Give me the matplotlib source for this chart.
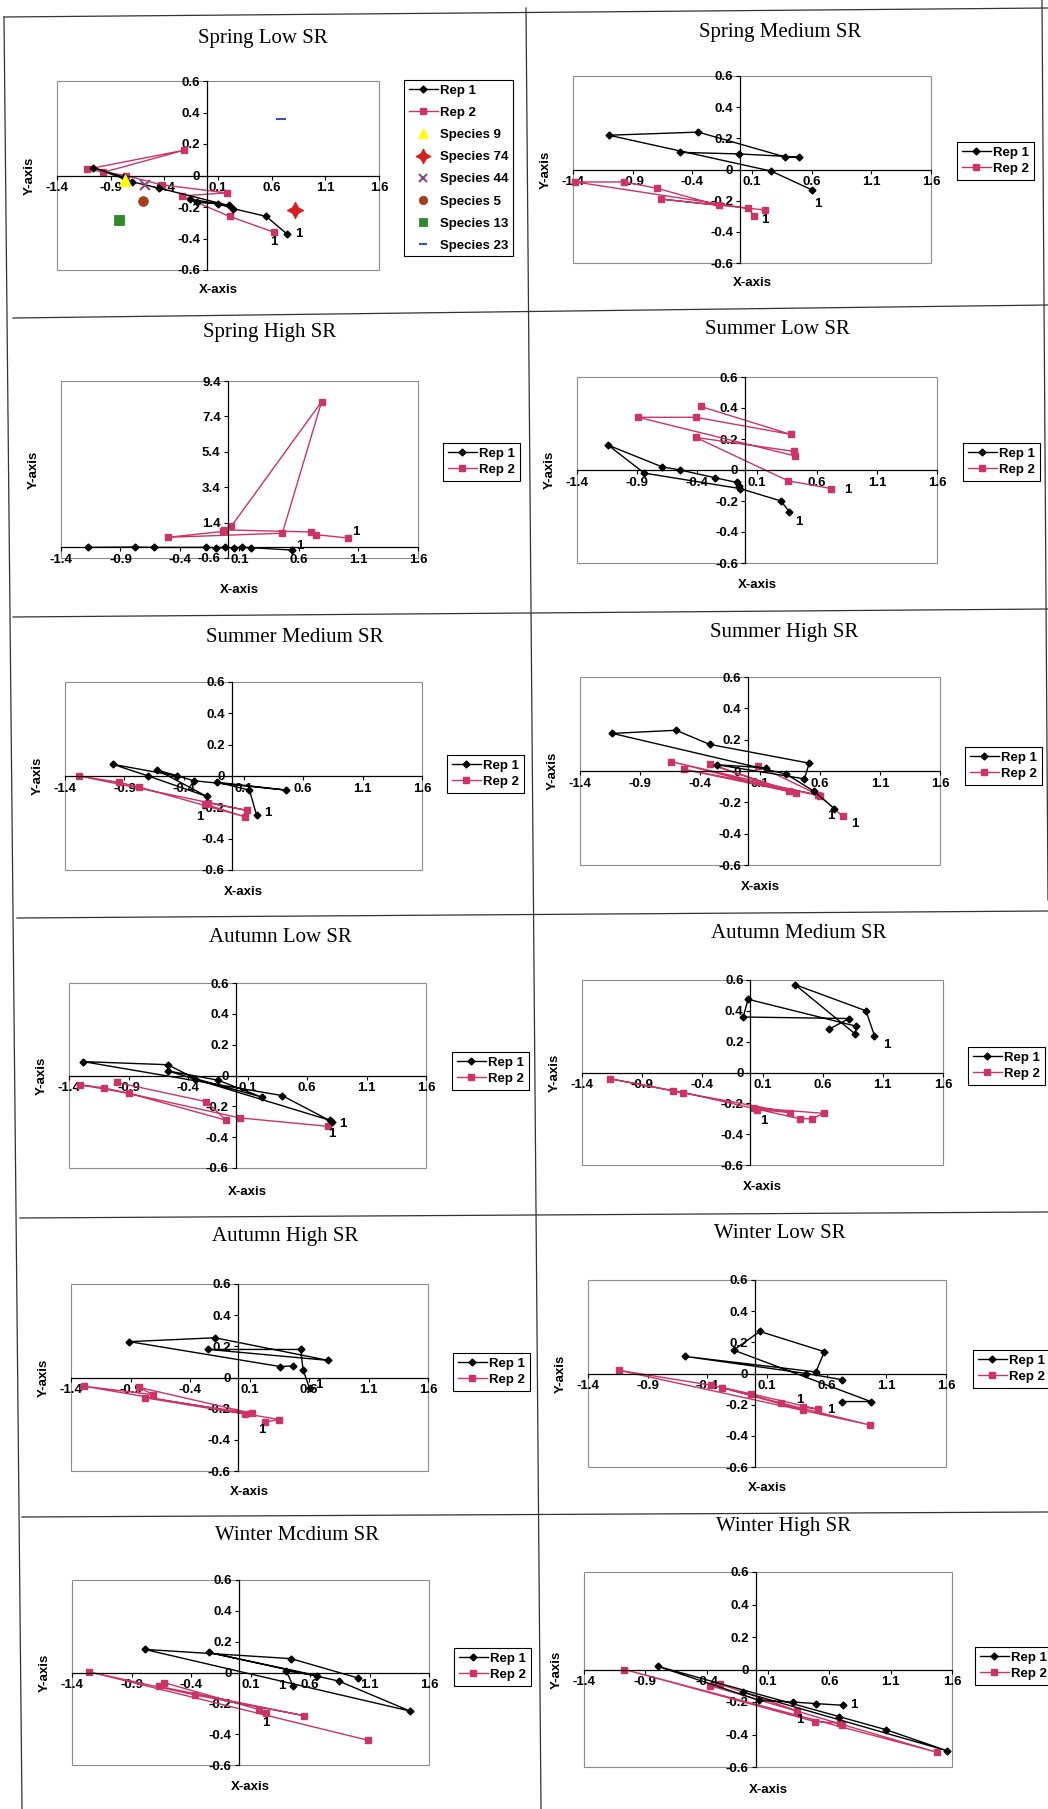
import matplotlib.pyplot as plt
from matplotlib.lines import Line2D
from matplotlib.patches import Rectangle
import matplotlib.ticker as ticker

plt.rcParams['font.family'] = ['Liberation Sans', 'DejaVu Sans']

W, H = 1048, 1809

# ---------------- DATA ----------------
panel_titles = ['Spring Low SR', 'Spring Medium SR', 'Spring High SR', 'Summer Low SR',
                'Summer Medium SR', 'Summer High SR', 'Autumn Low SR', 'Autumn Medium SR',
                'Autumn High SR', 'Winter Low SR', 'Winter Mcdium SR', 'Winter High SR']

x_ticks = [-1.4, -0.9, -0.4, 0.1, 0.6, 1.1, 1.6]
y_ticks = [-0.6, -0.4, -0.2, 0, 0.2, 0.4, 0.6]
y_ticks_spring_high = [-0.6, 1.4, 3.4, 5.4, 7.4, 9.4]

# Spring Low
spring_low_rep1_x = [0.74, 0.55, 0.24, 0.10, -0.10, -0.16, 0.20, -0.45, -0.70, -1.06, -0.78]
spring_low_rep1_y = [-0.37, -0.26, -0.21, -0.18, -0.17, -0.15, -0.19, -0.08, -0.04, 0.05, -0.01]
spring_low_rep2_x = [0.62, 0.21, -0.24, 0.18, -0.42, -0.76, -1.12, -0.22, -0.97]
spring_low_rep2_y = [-0.36, -0.26, -0.13, -0.11, -0.06, 0.00, 0.04, 0.16, 0.02]

species_names = ['Species 9', 'Species 74', 'Species 44', 'Species 5', 'Species 13', 'Species 23']
species_x = [-0.77, 0.82, -0.58, -0.60, -0.82, 0.69]
species_y = [-0.03, -0.22, -0.06, -0.16, -0.28, 0.36]

# Spring Medium
spring_med_rep1_x = [0.60, 0.26, -1.10, -0.35, 0.38, 0.49, -0.01, -0.50]
spring_med_rep1_y = [-0.13, -0.01, 0.22, 0.24, 0.08, 0.08, 0.10, 0.11]
spring_med_rep2_x = [0.12, 0.07, -1.38, -0.97, -0.70, -0.18, -0.66, 0.21]
spring_med_rep2_y = [-0.30, -0.25, -0.08, -0.08, -0.12, -0.23, -0.19, -0.26]

# Spring High
spring_high_rep1_x = [0.54, 0.20, 0.12, 0.05, -0.02, -0.10, -0.18, -0.62, -0.78, -1.17]
spring_high_rep1_y = [-0.15, -0.02, 0.01, -0.03, 0.0, -0.02, 0.0, 0.0, 0.02, 0.0]
spring_high_rep2_x = [1.01, 0.74, 0.70, -0.03, 0.03, 0.79, 0.46, -0.50, -0.04]
spring_high_rep2_y = [0.53, 0.72, 0.87, 0.99, 1.18, 8.23, 0.80, 0.57, 0.90]

# Summer Low
summer_low_rep1_x = [0.37, 0.30, -0.04, -0.84, -1.14, -0.69, -0.54, -0.25, -0.07, -0.05]
summer_low_rep1_y = [-0.27, -0.20, -0.12, -0.02, 0.16, 0.02, 0.00, -0.05, -0.08, -0.10]
summer_low_rep2_x = [0.72, 0.36, -0.41, 0.41, 0.42, -0.89, -0.41, 0.38, -0.37]
summer_low_rep2_y = [-0.12, -0.07, 0.21, 0.12, 0.09, 0.34, 0.34, 0.23, 0.41]

# Summer Medium
summer_med_rep1_x = [0.21, 0.15, -0.12, 0.46, -0.32, -0.63, -0.21, -0.70, -1.00, -0.46]
summer_med_rep1_y = [-0.25, -0.09, -0.04, -0.09, -0.03, 0.04, -0.13, 0.00, 0.075, 0.00]
summer_med_rep2_x = [-0.20, 0.13, -1.28, -0.95, -0.78, 0.11, -0.22]
summer_med_rep2_y = [-0.17, -0.22, 0.00, -0.04, -0.07, -0.26, -0.18]

# Summer High
summer_high_rep1_x = [0.72, 0.55, 0.32, -1.13, -0.60, -0.32, 0.51, 0.47, -0.26, 0.15]
summer_high_rep1_y = [-0.24, -0.13, -0.02, 0.24, 0.26, 0.17, 0.05, -0.05, 0.04, 0.02]
summer_high_rep2_x = [0.79, 0.60, -0.64, 0.34, -0.32, 0.40, -0.53, 0.58, 0.08]
summer_high_rep2_y = [-0.29, -0.16, 0.06, -0.13, 0.045, -0.14, 0.01, -0.15, 0.035]

# Autumn Low
autumn_low_rep1_x = [0.81, 0.39, -1.28, -0.57, -0.34, 0.22, -0.15, -0.57, 0.79]
autumn_low_rep1_y = [-0.30, -0.13, 0.09, 0.07, -0.02, -0.14, -0.03, 0.03, -0.29]
autumn_low_rep2_x = [0.78, 0.035, -1.11, -1.31, -0.90, -0.08, -0.245, -1.00]
autumn_low_rep2_y = [-0.33, -0.275, -0.08, -0.06, -0.115, -0.29, -0.17, -0.045]

# Autumn Medium
autumn_med_rep1_x = [1.03, 0.96, 0.37, 0.87, 0.88, -0.02, -0.06, 0.82, 0.65]
autumn_med_rep1_y = [0.24, 0.40, 0.57, 0.25, 0.30, 0.475, 0.36, 0.35, 0.28]
autumn_med_rep2_x = [0.055, 0.33, -0.64, -1.17, -0.56, 0.41, 0.51, 0.61, 0.03]
autumn_med_rep2_y = [-0.24, -0.26, -0.12, -0.04, -0.13, -0.30, -0.30, -0.265, -0.23]

# Autumn High
autumn_high_rep1_x = [0.605, 0.55, 0.53, -0.245, 0.76, -0.19, -0.91, 0.36, 0.465]
autumn_high_rep1_y = [-0.07, 0.05, 0.18, 0.18, 0.11, 0.255, 0.23, 0.07, 0.075]
autumn_high_rep2_x = [0.23, 0.35, -1.29, -0.71, -0.825, 0.12, -0.78, 0.06]
autumn_high_rep2_y = [-0.285, -0.27, -0.056, -0.11, -0.064, -0.23, -0.13, -0.235]

# Winter Low
winter_low_rep1_x = [0.73, 0.97, -0.18, 0.04, 0.58, 0.51, -0.59, 0.43, 0.73]
winter_low_rep1_y = [-0.18, -0.18, 0.15, 0.27, 0.14, 0.01, 0.11, 0.0, -0.04]
winter_low_rep2_x = [0.40, 0.53, -0.035, -0.37, -1.14, 0.96, 0.22, -0.28, 0.405]
winter_low_rep2_y = [-0.215, -0.23, -0.13, -0.075, 0.02, -0.33, -0.19, -0.09, -0.235]

# Winter Medium
winter_med_rep1_x = [0.46, 0.40, 0.66, -0.25, 0.84, 1.44, -0.79, 0.44, 1.00]
winter_med_rep1_y = [-0.09, 0.01, -0.02, 0.13, -0.055, -0.25, 0.15, 0.09, -0.035]
winter_med_rep2_x = [0.23, 0.17, -0.63, -0.67, 0.55, -0.37, -1.26, 1.09]
winter_med_rep2_y = [-0.26, -0.24, -0.065, -0.09, -0.28, -0.145, 0.005, -0.44]

# Winter High
winter_high_rep1_x = [0.71, 0.49, 0.30, 0.03, -0.80, 0.68, 1.06, 1.56, -0.10]
winter_high_rep1_y = [-0.22, -0.21, -0.20, -0.19, 0.02, -0.29, -0.37, -0.50, -0.14]
winter_high_rep2_x = [0.34, -0.29, -0.37, 1.48, -1.07, 0.48, 0.69, 0.70]
winter_high_rep2_y = [-0.255, -0.09, -0.10, -0.51, 0.0, -0.32, -0.33, -0.34]

rep1_x = [spring_low_rep1_x, spring_med_rep1_x, spring_high_rep1_x, summer_low_rep1_x,
          summer_med_rep1_x, summer_high_rep1_x, autumn_low_rep1_x, autumn_med_rep1_x,
          autumn_high_rep1_x, winter_low_rep1_x, winter_med_rep1_x, winter_high_rep1_x]
rep1_y = [spring_low_rep1_y, spring_med_rep1_y, spring_high_rep1_y, summer_low_rep1_y,
          summer_med_rep1_y, summer_high_rep1_y, autumn_low_rep1_y, autumn_med_rep1_y,
          autumn_high_rep1_y, winter_low_rep1_y, winter_med_rep1_y, winter_high_rep1_y]
rep2_x = [spring_low_rep2_x, spring_med_rep2_x, spring_high_rep2_x, summer_low_rep2_x,
          summer_med_rep2_x, summer_high_rep2_x, autumn_low_rep2_x, autumn_med_rep2_x,
          autumn_high_rep2_x, winter_low_rep2_x, winter_med_rep2_x, winter_high_rep2_x]
rep2_y = [spring_low_rep2_y, spring_med_rep2_y, spring_high_rep2_y, summer_low_rep2_y,
          summer_med_rep2_y, summer_high_rep2_y, autumn_low_rep2_y, autumn_med_rep2_y,
          autumn_high_rep2_y, winter_low_rep2_y, winter_med_rep2_y, winter_high_rep2_y]

# ---------------- LAYOUT (pixels) ----------------
# plot area: left, top, right, bottom
plot_boxes = [(57, 81, 379, 270), (573, 76, 931, 263), (61, 381, 418, 558), (577, 377, 937, 563),
              (65, 682, 422, 870), (580, 677, 940, 865), (69, 983, 426, 1168), (582, 980, 943, 1165),
              (71, 1284, 428, 1471), (588, 1280, 946, 1467), (72, 1580, 429, 1765), (584, 1572, 952, 1767)]
legend_pos = [(404, 80), (957, 142), (443, 443), (963, 443), (447, 755), (965, 747),
              (452, 1052), (968, 1047), (453, 1353), (973, 1350), (454, 1648), (975, 1647)]
title_pos = [(263, 38), (780, 32), (270, 333), (777, 330), (295, 637), (784, 632),
             (280, 937), (799, 933), (285, 1237), (780, 1233), (297, 1535), (784, 1527)]
xlabel_gap = [20, 20, 32, 22, 22, 22, 24, 22, 21, 21, 22, 23]
# offsets (px, down positive) of the "1" start labels
rep1_lab = [(12, 0), (6, 14), (8, -4), (9, 10), (11, -2), (-4, 7), (11, 2), (12, 9), (9, -3), (-11, 8), (-12, 0), (11, 0)]
rep2_lab = [(0, 10), (10, 4), (8, -6), (16, 1), (-8, 14), (12, 8), (3, 8), (7, 12), (-3, 8), (-3, -7), (0, 10), (2, 9)]

# table lines: (x0, y0, x1, y1)
table_lines = [(4, 17, 22, 1809), (526, 8, 541, 1809), (1042, 0, 1048, 900),
               (4, 17, 1048, 8), (13, 318, 1048, 305), (13, 617, 1048, 609), (17, 918, 1048, 911),
               (20, 1218, 1048, 1212), (22, 1517, 1048, 1512)]

REP1_C = '#000000'
REP2_C = '#cc3366'
species_style = [dict(marker='^', color='#ffff00', ms=8),
                 dict(marker=(4, 1, 0), color='#d42020', ms=12),
                 dict(marker='x', color='#8a4a7a', ms=7),
                 dict(marker='o', color='#a0401c', ms=7),
                 dict(marker='s', color='#2f8a2a', ms=7),
                 dict(marker='_', color='#3355aa', ms=7)]

fig = plt.figure(figsize=(W / 100, H / 100), dpi=100)
fig.patch.set_facecolor('white')

px = 0.72  # pixel -> points


def fmt(v, pos):
    if abs(v) < 1e-9:
        return '0'
    return '%.1f' % v


for i in range(12):
    l, t, r, b = plot_boxes[i]
    ax = fig.add_axes([l / W, 1 - b / H, (r - l) / W, (b - t) / H])
    ax.set_xlim(-1.4, 1.6)
    if i == 2:
        ax.set_ylim(-0.6, 9.4)
        ax.set_yticks(y_ticks_spring_high)
    else:
        ax.set_ylim(-0.6, 0.6)
        ax.set_yticks(y_ticks)
    ax.set_xticks(x_ticks)
    ax.xaxis.set_major_formatter(ticker.FuncFormatter(fmt))
    ax.yaxis.set_major_formatter(ticker.FuncFormatter(fmt))
    ax.spines['left'].set_position(('data', 0))
    ax.spines['bottom'].set_position(('data', 0))
    ax.spines['top'].set_visible(False)
    ax.spines['right'].set_visible(False)
    ax.spines['left'].set_linewidth(0.9)
    ax.spines['bottom'].set_linewidth(0.9)
    ax.tick_params(direction='out', length=3, width=0.8, pad=2)
    for lab in ax.get_xticklabels() + ax.get_yticklabels():
        lab.set_fontweight('bold')
        lab.set_fontsize(9.5)
    ax.add_patch(Rectangle((0, 0), 1, 1, transform=ax.transAxes, fill=False,
                           ec='#8c8c8c', lw=0.8, clip_on=False, zorder=0.5))

    ax.plot(rep1_x[i], rep1_y[i], color=REP1_C, lw=1.0, marker='D', ms=3.5, zorder=3, clip_on=False)
    ax.plot(rep2_x[i], rep2_y[i], color=REP2_C, lw=1.0, marker='s', ms=5, mfc=REP2_C, mec=REP2_C,
            zorder=2, clip_on=False)

    dx, dy = rep1_lab[i]
    ax.annotate('1', (rep1_x[i][0], rep1_y[i][0]), xytext=(dx * px, -dy * px), textcoords='offset points',
                ha='center', va='center', fontsize=9.5, fontweight='bold', zorder=5)
    dx, dy = rep2_lab[i]
    ax.annotate('1', (rep2_x[i][0], rep2_y[i][0]), xytext=(dx * px, -dy * px), textcoords='offset points',
                ha='center', va='center', fontsize=9.5, fontweight='bold', zorder=5)

    handles = [Line2D([], [], color=REP1_C, lw=1.0, marker='D', ms=3.5),
               Line2D([], [], color=REP2_C, lw=1.0, marker='s', ms=5)]
    names = ['Rep 1', 'Rep 2']
    spacing = 0.3
    if i == 0:
        for k in range(len(species_names)):
            st = species_style[k]
            ax.plot(species_x[k], species_y[k], linestyle='none', marker=st['marker'], ms=st['ms'],
                    color=st['color'], mec=st['color'], mew=1.5 if st['marker'] in ('x', '_') else 0.6,
                    zorder=4)
            handles.append(Line2D([], [], linestyle='none', marker=st['marker'], ms=st['ms'] - 1,
                                  color=st['color'], mew=1.5 if st['marker'] in ('x', '_') else 0.6))
            names.append(species_names[k])
        spacing = 0.75

    lx, ly = legend_pos[i]
    leg = ax.legend(handles, names, loc='upper left', bbox_to_anchor=(lx / W, 1 - ly / H),
                    bbox_transform=fig.transFigure, frameon=True, fancybox=False, framealpha=1,
                    edgecolor='black', borderpad=0.35, labelspacing=spacing, handlelength=2.2,
                    handletextpad=0.2, borderaxespad=0, prop={'weight': 'bold', 'size': 9.5})
    leg.get_frame().set_linewidth(0.8)

    ax.annotate('X-axis', xy=(0.5, 0), xycoords='axes fraction', xytext=(0, -xlabel_gap[i] * px),
                textcoords='offset points', ha='center', va='center', fontsize=9.5, fontweight='bold')
    ax.annotate('Y-axis', xy=(0, 0.5), xycoords='axes fraction', xytext=(-27 * px, 0),
                textcoords='offset points', ha='center', va='center', rotation=90,
                fontsize=9.5, fontweight='bold')

    tx, ty = title_pos[i]
    fig.text(tx / W, 1 - ty / H, panel_titles[i], ha='center', va='center', fontsize=15,
             family='Liberation Serif')

for x0, y0, x1, y1 in table_lines:
    fig.add_artist(Line2D([x0 / W, x1 / W], [1 - y0 / H, 1 - y1 / H], transform=fig.transFigure,
                          color='#333333', lw=0.9))

fig.savefig('out.png', dpi=100)
